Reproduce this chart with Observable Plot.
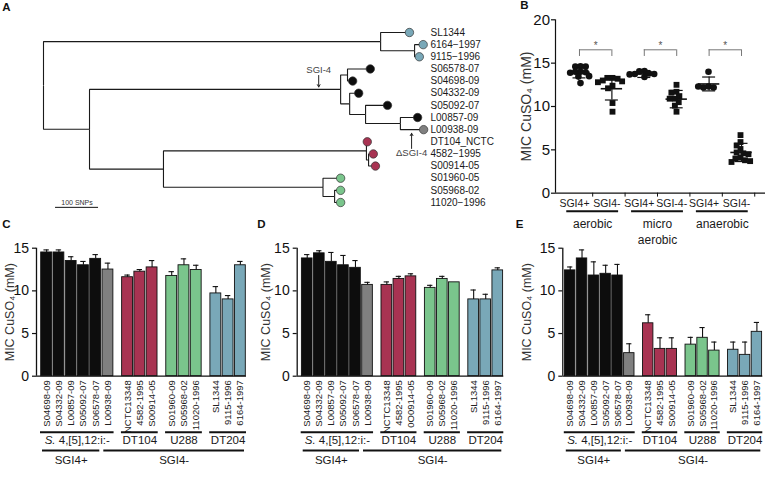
<!DOCTYPE html>
<html><head><meta charset="utf-8">
<script src="https://cdn.jsdelivr.net/npm/d3@7"></script>
<script src="https://cdn.jsdelivr.net/npm/@observablehq/plot@0.6"></script>
<style>
body{margin:0;background:#fff;}
#fig{position:relative;width:768px;height:478px;overflow:hidden;background:#fff;}
#fig > div{position:absolute;}
#fig svg{display:block;}
</style></head><body><div id="fig"></div>
<script>
// ================= DATA =================
// ---- Panel A: phylogeny (branch lengths in SNPs) ----
const treeNodes = ["root","DT204clade","SL1344","DT204sub","6164-1997","9115-1996","inner","SGI4clade","S1","S06578-07","S04698-09","S2","S04332-09","S3","S05092-07","S4","L00857-09","L00938-09","lower","DT104clade","DT104_NCTC","DT104sub","4582-1995","S00914-05","U288clade","S01960-05","U288sub","S05968-02","11020-1996"];
const treeParents = [null,"root","DT204clade","DT204clade","DT204sub","DT204sub","root","inner","SGI4clade","S1","S1","SGI4clade","S2","S2","S3","S3","S4","S4","inner","lower","DT104clade","DT104clade","DT104sub","DT104sub","lower","U288clade","U288clade","U288sub","U288sub"];
const branchSNPs = [0,784,67,79,20,11,107,584,16,53,12,21,21,37,51,81,40,54,172,472,2,5,11,16,371,41,27,14,14];
const leafOrder = ["SL1344","6164-1997","9115-1996","S06578-07","S04698-09","S04332-09","S05092-07","L00857-09","L00938-09","DT104_NCTC","4582-1995","S00914-05","S01960-05","S05968-02","11020-1996"];
const leafLabels = ["SL1344","6164\u22121997","9115\u22121996","S06578-07","S04698-09","S04332-09","S05092-07","L00857-09","L00938-09","DT104_NCTC","4582\u22121995","S00914-05","S01960-05","S05968-02","11020\u22121996"];
const leafLineage = ["DT204","DT204","DT204","SGI4","SGI4","SGI4","SGI4","SGI4","dSGI4","DT104","DT104","DT104","U288","U288","U288"];
const treeNotes = [{node:"SGI4clade", snp:640, label:"SGI-4", side:"above"},{node:"L00938-09", snp:856, label:"\u0394SGI-4", side:"below"}];
const scaleBarSNPs = 100;
const scaleBarLabel = "100 SNPs";

// ---- Panel B: MIC per condition, SGI4+ vs SGI4- ----
const bGroups = ["aerobic SGI4+","aerobic SGI4-","micro SGI4+","micro SGI4-","anaerobic SGI4+","anaerobic SGI4-"];
const bTickLabels = ["SGI4+","SGI4-","SGI4+","SGI-4-","SGI4+","SGI4-"];
const bStatus = ["+","-","+","-","+","-"];
const aerobicPlus = [14.65,14.6,14.6,14.0,14.0,13.95,13.9,13.5,13.45,12.7];
const aerobicMinus = [13.3,13.3,13.2,13.0,12.9,12.8,12.4,12.1,10.4,9.4];
const microPlus = [14.1,14.05,13.8,13.75,13.75,13.7,13.4];
const microMinus = [12.5,11.7,11.6,11.2,10.9,10.9,10.5,10.1,9.4];
const anaerobicPlus = [14.0,12.3,12.2,12.2,12.3];
const anaerobicMinus = [6.7,5.9,5.5,5.1,4.7,4.6,4.5,4.1,4.0,3.8,3.7,3.6];
const bMeans = [13.95,12.05,13.75,10.85,12.6,4.7];
const bSDs = [0.65,1.3,0.4,1.0,0.8,1.05];
const bConditions = ["aerobic","micro\naerobic","anaerobic"];
const bSignif = ["*","*","*"];

// ---- Panels C-E: MIC per strain ----
const strainNames = ["S04698-09","S04332-09","L00857-09","S05092-07","S06578-07","L00938-09","NCTC13348","4582-1995","S00914-05","S01960-09","S05968-02","11020-1996","SL1344","9115-1996","6164-1997"];
const strainNamesD = ["S04698-09","S04332-09","L00857-09","S05092-07","S06578-07","L00938-09","NCTC13348","4582-1995","0O0914-05","S01960-09","S05968-02","11020-1996","SL1344","9115-1996","6164-1997"];
const strainLineage = ["SGI4","SGI4","SGI4","SGI4","SGI4","dSGI4","DT104","DT104","DT104","U288","U288","U288","DT204","DT204","DT204"];
const strainSerotype = ["S4","S4","S4","S4","S4","S4","DT104","DT104","DT104","U288","U288","U288","DT204","DT204","DT204"];
const strainSGI = ["SGI4+","SGI4+","SGI4+","SGI4+","SGI4+","SGI4-","SGI4-","SGI4-","SGI4-","SGI4-","SGI4-","SGI4-","SGI4-","SGI4-","SGI4-"];
const serotypeKeys = ["S4","DT104","U288","DT204"];
const serotypeLabels = ["S. 4,[5],12:i:-","DT104","U288","DT204"];
const sgiKeys = ["SGI4+","SGI4-"];
const micAerobic = [14.5,14.5,13.5,13.0,13.75,12.5,11.6,12.25,12.75,11.75,13.0,12.45,9.7,9.0,13.0];
const errAerobic = [0.3,0.3,0.5,0.45,0.5,0.75,0.25,0.25,0.8,0.5,0.75,0.55,0.8,0.45,0.45];
const micMicro = [13.8,14.4,13.4,13.0,12.7,10.7,10.7,11.4,11.7,10.35,11.4,11.0,9.0,9.0,12.4];
const errMicro = [0.45,0.3,1.1,1.15,0.85,0.3,0.35,0.3,0.3,0.3,0.3,0,1.1,0.6,0.3];
const micAnaerobic = [12.4,13.8,11.8,12.0,11.8,2.7,6.2,3.2,3.2,3.7,4.5,3.0,3.1,2.5,5.2];
const errAnaerobic = [0.4,1.0,1.6,1.0,1.3,1.1,1.0,1.3,1.3,0.85,1.2,1.0,0.9,1.5,1.1];
const yTitle = "MIC CuSO\u2084 (mM)";

// ---- colours ----
const lineageKeys = ["SGI4","dSGI4","DT104","U288","DT204"];
const lineageColors = ["#0d0d0d","#808080","#a83352","#7ac58c","#79a8b8"];

// ================= HELPERS =================
const FONT = '"Liberation Sans", Arial, Helvetica, sans-serif';
const baseStyle = {fontFamily: FONT, background: "transparent", overflow: "visible", color: "#111"};
const fig = document.getElementById("fig");
function place(node, left, top) {
  const d = document.createElement("div");
  d.style.left = left + "px"; d.style.top = top + "px";
  d.appendChild(node); fig.appendChild(d);
}
const ctx = document.createElement("canvas").getContext("2d");
function textW(s, size, style = "") { ctx.font = `${style} ${size}px "Liberation Sans", Arial`; return ctx.measureText(s).width; }
function letter(l, dx, dy) {
  return Plot.text([l], {frameAnchor: "top-left", textAnchor: "middle", lineAnchor: "middle", dx, dy, fontSize: 11.5, fontWeight: "bold", fill: "#111"});
}
const axY = opts => (typeof Plot.axisY === "function" ? Plot.axisY(opts) : null);

// ================= PANEL A =================
{
  const idx = new Map(treeNodes.map((n, i) => [n, i]));
  const X = {}, Y = {};
  const getX = n => X[n] !== undefined ? X[n] : (X[n] = (treeParents[idx.get(n)] ? getX(treeParents[idx.get(n)]) : 0) + branchSNPs[idx.get(n)]);
  const getY = n => {
    if (Y[n] !== undefined) return Y[n];
    const li = leafOrder.indexOf(n);
    if (li >= 0) return (Y[n] = li);
    const ch = treeNodes.filter((m, i) => treeParents[i] === n);
    return (Y[n] = d3.mean(ch, getY));
  };
  treeNodes.forEach(n => { getX(n); getY(n); });
  const edges = treeNodes.map((n, i) => ({n, p: treeParents[i]})).filter(d => d.p)
    .map(d => ({x1: X[d.p], y1: Y[d.p], x2: X[d.n], y2: Y[d.n]}));
  const leaves = leafOrder.map((n, i) => ({x: X[n], y: Y[n], label: leafLabels[i], lineage: leafLineage[i]}));
  const labelSNP = 900;
  const notes = treeNotes.map(d => {
    const y = Y[d.node], up = d.side === "below";
    return {x: d.snp, label: d.label, y1: up ? y + 1.55 : y - 1.15, y2: up ? y + 0.3 : y - 0.2, ty: up ? y + 1.9 : y - 1.6};
  });
  const bar = [{x1: 28, x2: 28 + scaleBarSNPs, y: 14.4, label: scaleBarLabel}];
  const p = Plot.plot({
    width: 520, height: 212, marginLeft: 43, marginRight: 47, marginTop: 32, marginBottom: 10,
    x: {domain: [0, 1000], axis: null}, y: {domain: [0, 14], reverse: true, axis: null},
    color: {domain: lineageKeys, range: lineageColors},
    style: baseStyle,
    marks: [
      Plot.link(edges, {x1: "x1", y1: "y1", x2: "x2", y2: "y2", curve: "step-before", stroke: "#1a1a1a", strokeWidth: 1.1}),
      Plot.dot(leaves, {x: "x", y: "y", r: 4.2, fill: "lineage", stroke: "#333", strokeWidth: 0.7}),
      Plot.text(leaves, {x: () => labelSNP, y: "y", text: "label", textAnchor: "start", fontSize: 10, fill: "#1a1a1a"}),
      Plot.arrow(notes, {x1: "x", x2: "x", y1: "y1", y2: "y2", headLength: 4, stroke: "#222", strokeWidth: 1}),
      Plot.text(notes, {x: "x", y: "ty", text: "label", fontSize: 9.5, fill: "#444"}),
      Plot.ruleY(bar, {x1: "x1", x2: "x2", y: "y", stroke: "#111", strokeWidth: 1}),
      Plot.text(bar, {x: d => (d.x1 + d.x2) / 2, y: d => d.y - 0.4, text: "label", fontSize: 7, fill: "#333"}),
      letter("A", -37, -25)
    ]
  });
  place(p, 0, 0);
}

// ================= PANEL B =================
{
  const series = [aerobicPlus, aerobicMinus, microPlus, microMinus, anaerobicPlus, anaerobicMinus];
  const pts = series.flatMap((vals, i) => vals.map(v => ({group: bGroups[i], value: v, sgi: bStatus[i]})));
  const W = 248, H = 245, mL = 35, mR = 3, mT = 19.3, mB = 52.3, po = 0.24;
  const dots = Plot.plot({
    width: W, height: H, marginLeft: mL, marginRight: mR, marginTop: mT, marginBottom: mB,
    fx: {domain: bGroups, paddingInner: 0, paddingOuter: po, axis: null, label: null},
    y: {domain: [0, 20], axis: null},
    symbol: {domain: ["+", "-"], range: ["circle", "square"]},
    style: baseStyle,
    marks: [Plot.dot(pts, Plot.dodgeX({anchor: "middle", padding: -1.4}, {fx: "group", y: "value", r: 3.3, symbol: "sgi", fill: "#111", stroke: "none"}))]
  });
  const stats = bGroups.map((g, i) => ({g: i, mean: bMeans[i], sd: bSDs[i], label: bTickLabels[i]}));
  const pairs = bConditions.map((c, i) => ({a: 2 * i, b: 2 * i + 1, name: c, star: bSignif[i]}));
  const xMin = -0.5 - po, xMax = bGroups.length - 0.5 + po;
  const lvl = 16.54;
  const over = Plot.plot({
    width: W, height: H, marginLeft: mL, marginRight: mR, marginTop: mT, marginBottom: mB,
    x: {domain: [xMin, xMax], axis: null},
    y: {domain: [0, 20], ticks: 4, tickSize: 4, tickPadding: 1.5, label: null},
    style: {...baseStyle, fontSize: "15px"},
    marks: [
      axY({ticks: 4, tickSize: 4, tickPadding: 1.5, label: null, fontSize: 15, strokeWidth: 1.2}),
      Plot.ruleX([xMin], {y1: 0, y2: 20, strokeWidth: 1.2}),
      Plot.ruleY([0], {strokeWidth: 1.2}),
      Plot.ruleX(stats, {x: d => d.g + 0.5, y1: 0, y2: -0.45, dx: -3, strokeWidth: 1}),
      Plot.ruleY(stats, {x1: d => d.g - 0.33, x2: d => d.g + 0.33, y: "mean", strokeWidth: 1.6}),
      Plot.ruleX(stats, {x: "g", y1: d => d.mean - d.sd, y2: d => d.mean + d.sd, strokeWidth: 1.2}),
      Plot.ruleY(stats, {x1: d => d.g - 0.2, x2: d => d.g + 0.2, y: d => d.mean + d.sd, strokeWidth: 1.2}),
      Plot.ruleY(stats, {x1: d => d.g - 0.2, x2: d => d.g + 0.2, y: d => d.mean - d.sd, strokeWidth: 1.2}),
      Plot.ruleY(pairs, {x1: "a", x2: "b", y: lvl, stroke: "#777", strokeWidth: 1}),
      Plot.ruleX(pairs, {x: "a", y1: lvl, y2: lvl - 0.77, stroke: "#777", strokeWidth: 1}),
      Plot.ruleX(pairs, {x: "b", y1: lvl, y2: lvl - 0.77, stroke: "#777", strokeWidth: 1}),
      Plot.text(pairs, {x: d => (d.a + d.b) / 2, y: lvl + 0.45, text: "star", fontSize: 10, fill: "#555"}),
      Plot.text(stats, {x: "g", text: "label", frameAnchor: "bottom", lineAnchor: "middle", textAnchor: "middle", dy: 10.5, dx: -5, fontSize: 10.5, fill: "#1a1a1a"}),
      Plot.ruleY(pairs, {x1: d => (d.a + d.b) / 2 - 0.8, x2: d => (d.a + d.b) / 2 + 0.8, y: 0, dy: 18, dx: -3, strokeWidth: 2}),
      Plot.text(pairs, {x: d => (d.a + d.b) / 2, text: "name", frameAnchor: "bottom", lineAnchor: "top", textAnchor: "middle", dy: 23, dx: -3, fontSize: 12, lineHeight: 1.35, fill: "#1a1a1a"}),
      Plot.text([yTitle], {frameAnchor: "left", textAnchor: "middle", lineAnchor: "middle", rotate: -90, dx: -29, fontSize: 14, fill: "#333"}),
      letter("B", -31, -14)
    ].filter(Boolean)
  });
  place(dots, 520, 0);
  place(over, 520, 0);
}

// ================= PANELS C, D, E =================
function barPanel({mic, err, names, l, left, width, marginLeft, marginRight, gap, titleDx, letterDx}) {
  const H = 268, mT = 37.7, mB = 102.3;
  const data = names.map((name, i) => ({name, mic: mic[i], err: err[i], lineage: strainLineage[i], ser: strainSerotype[i], sgi: strainSGI[i],
    pos: i + 0.6 * serotypeKeys.indexOf(strainSerotype[i])}));
  const maxPos = d3.max(data, d => d.pos) + 0.5;
  const frameW = width - marginLeft - marginRight;
  const unit = (frameW - gap) / (maxPos + 0.5);
  const xMin = -0.5 - gap / unit;
  const ext = (key, keys, labels) => keys.map((k, j) => {
    const s = data.filter(d => d[key] === k);
    const x1 = d3.min(s, d => d.pos) - 0.5, x2 = d3.max(s, d => d.pos) + 0.5;
    return {x1, x2, c: (x1 + x2) / 2, name: labels[j]};
  });
  const ser = ext("ser", serotypeKeys, serotypeLabels);
  const sgi = ext("sgi", sgiKeys, sgiKeys);
  const fs = 11.5;
  const serParts = ser.flatMap(d => {
    const m = d.name.match(/^(S\.)(.*)$/);
    if (!m) return [{c: d.c, text: d.name, dx: 0, anchor: "middle", style: "normal"}];
    const wi = textW(m[1], fs, "italic"), wr = textW(m[2], fs);
    const tot = wi + wr;
    return [{c: d.c, text: m[1], dx: -tot / 2, anchor: "start", style: "italic"},
            {c: d.c, text: m[2], dx: -tot / 2 + wi, anchor: "start", style: "normal"}];
  });
  const withErr = data.filter(d => d.err > 0);
  const p = Plot.plot({
    width, height: H, marginLeft, marginRight, marginTop: mT, marginBottom: mB,
    x: {domain: [xMin, maxPos], axis: null},
    y: {domain: [0, 15], ticks: 3, tickSize: 4, tickPadding: 4, label: null},
    color: {domain: lineageKeys, range: lineageColors},
    style: {...baseStyle, fontSize: "13.5px"},
    marks: [
      axY({ticks: 3, tickSize: 4, tickPadding: 3.5, label: null, fontSize: 14, strokeWidth: 1.2}),
      Plot.rect(data, {x1: d => d.pos - 0.5, x2: d => d.pos + 0.5, y1: 0, y2: "mic", fill: "lineage", stroke: "#111", strokeWidth: 0.9, insetLeft: 0.7, insetRight: 0.7}),
      Plot.ruleX(withErr, {x: "pos", y1: "mic", y2: d => d.mic + d.err, strokeWidth: 1.1}),
      Plot.ruleY(withErr, {x1: d => d.pos - 0.22, x2: d => d.pos + 0.22, y: d => d.mic + d.err, strokeWidth: 1.1}),
      Plot.ruleX([xMin], {y1: 0, y2: 15, strokeWidth: 1.3}),
      Plot.ruleY([0], {strokeWidth: 1.3}),
      Plot.text(data, {x: "pos", text: "name", frameAnchor: "bottom", rotate: -90, textAnchor: "end", lineAnchor: "middle", dy: 4, fontSize: 9.5, fill: "#222"}),
      Plot.ruleY(ser, {x1: "x1", x2: "x2", y: 0, dy: 56, strokeWidth: 2}),
      ...serParts.map(d => Plot.text([d], {x: "c", text: "text", frameAnchor: "bottom", textAnchor: d.anchor, lineAnchor: "middle", dx: d.dx, dy: 64.5, fontSize: fs, fontStyle: d.style, fill: "#1a1a1a"})),
      Plot.ruleY(sgi, {x1: "x1", x2: "x2", y: 0, dy: 74.3, strokeWidth: 2, insetLeft: 2, insetRight: 2}),
      Plot.text(sgi, {x: "c", text: "name", frameAnchor: "bottom", textAnchor: "middle", lineAnchor: "middle", dy: 84.5, fontSize: fs, fill: "#1a1a1a"}),
      Plot.text([yTitle], {frameAnchor: "left", textAnchor: "middle", lineAnchor: "middle", rotate: -90, dx: titleDx, fontSize: 12.5, fill: "#333"}),
      letter(l, letterDx, -23.7)
    ].filter(Boolean)
  });
  place(p, left, 210);
}
barPanel({mic: micAerobic, err: errAerobic, names: strainNames, l: "C", left: 0, width: 255, marginLeft: 36, marginRight: 9, gap: 4, titleDx: -27, letterDx: -30});
barPanel({mic: micMicro, err: errMicro, names: strainNamesD, l: "D", left: 258, width: 257, marginLeft: 38.7, marginRight: 11.7, gap: 4, titleDx: -31.7, letterDx: -35.7});
barPanel({mic: micAnaerobic, err: errAnaerobic, names: strainNames, l: "E", left: 511, width: 257, marginLeft: 51.3, marginRight: 5.7, gap: 1.5, titleDx: -35.6, letterDx: -43.3});
</script></body></html>
